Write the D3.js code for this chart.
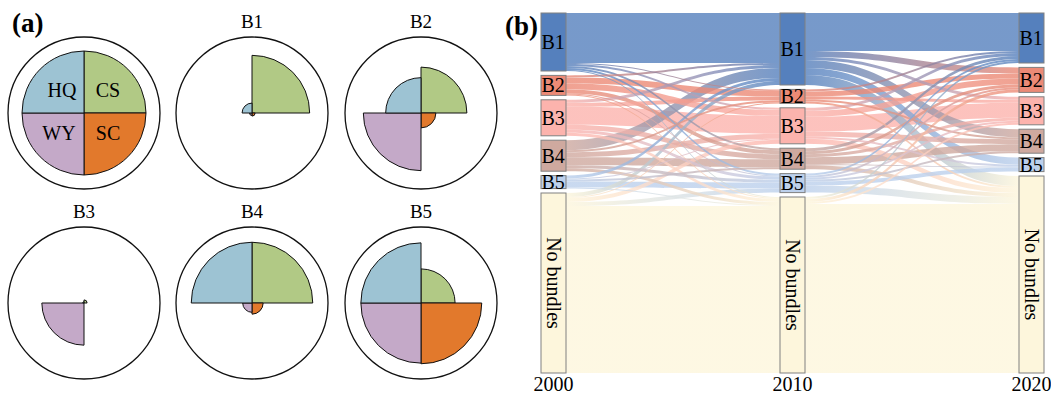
<!DOCTYPE html>
<html>
<head>
<meta charset="utf-8">
<script src="https://cdn.jsdelivr.net/npm/d3@7"></script>
<style>
  body { margin: 0; background: #fff; }
  svg text { font-family: "Liberation Serif", "Times New Roman", serif; }
</style>
</head>
<body>
<div class="wrapper"></div>
<script>
// ---- data ----
var bundles = ["B1", "B2", "B3", "B4", "B5"];
var services = ["CS", "SC", "WY", "HQ"];   // clockwise from 12 o'clock
// relative sector length of each service in each bundle (B1..B5)
var hq = [0.16, 0.57, 0.02, 0.98, 0.97];
var cs = [0.93, 0.74, 0.05, 0.98, 0.55];
var wy = [0.04, 0.93, 0.68, 0.15, 0.97];
var sc = [0.05, 0.24, 0.00, 0.18, 0.98];

var years = ["2000", "2010", "2020"];
var classes = ["B1", "B2", "B3", "B4", "B5", "No bundles"];
// flows, rows = source class, cols = target class
var flows2000to2010 = [
  [50, 1, 2, 2, 2, 1],
  [2, 6, 6, 4, 1, 1],
  [3, 4, 18, 5, 3, 3],
  [10, 2, 5, 8, 3, 3],
  [3, 0, 1, 2, 6, 1],
  [4, 1, 4, 0, 4, 167]
];
var flows2010to2020 = [
  [38, 6, 3, 8, 7, 10],
  [2, 5, 3, 2, 0, 2],
  [3, 6, 15, 5, 2, 5],
  [3, 3, 3, 7, 1, 4],
  [2, 2, 2, 2, 4, 7],
  [2, 3, 2, 0, 0, 169]
];

var w = 1051, h = 401;
var svg = d3.select(".wrapper").append("svg")
    .attr("width", w)
    .attr("height", h);

// ---- panel (a) ----
var serviceColor = {HQ: "#9dc3d3", CS: "#b1c985", WY: "#c4a9c8", SC: "#e2792c"};
var serviceValues = {HQ: hq, CS: cs, WY: wy, SC: sc};
var r = d3.scaleLinear().domain([0, 1]).range([0, 62]);
var arc = d3.arc().innerRadius(0);

var cx = [84, 252, 421], cy = [113, 303];

svg.append("text")
    .attr("x", 12).attr("y", 32)
    .style("font-size", "27px").style("font-weight", "bold")
    .text("(a)");

// key circle + 5 bundles
var panels = [{name: null, idx: -1}].concat(bundles.map(function(b, i) { return {name: b, idx: i}; }));

panels.forEach(function(p, k) {
  var g = svg.append("g")
      .attr("transform", "translate(" + cx[k % 3] + "," + cy[Math.floor(k / 3)] + ")");
  g.append("circle")
      .attr("r", 76)
      .attr("fill", "none")
      .attr("stroke", "#111")
      .attr("stroke-width", 1.3);
  services.forEach(function(s, j) {
    var v = p.idx < 0 ? 1 : serviceValues[s][p.idx];
    if (v <= 0) return;
    g.append("path")
        .attr("d", arc.outerRadius(r(v))({startAngle: j * Math.PI / 2, endAngle: (j + 1) * Math.PI / 2}))
        .attr("fill", serviceColor[s])
        .attr("stroke", "#111")
        .attr("stroke-width", 1);
  });
  if (p.idx < 0) {
    var lab = {HQ: [-22, -16], CS: [24, -16], WY: [-25, 27], SC: [24, 27]};
    services.forEach(function(s) {
      g.append("text")
          .attr("x", lab[s][0]).attr("y", lab[s][1])
          .attr("text-anchor", "middle")
          .style("font-size", "20px")
          .text(s);
    });
  } else {
    g.append("text")
        .attr("y", -85)
        .attr("text-anchor", "middle")
        .style("font-size", "19px")
        .text(p.name);
  }
});

// ---- panel (b) sankey ----
svg.append("text")
    .attr("x", 505).attr("y", 35)
    .style("font-size", "27px").style("font-weight", "bold")
    .text("(b)");

var nodeColor = ["#5580bd", "#ec8a76", "#fcb3ad", "#cfa99f", "#bcd0ec", "#fdf6dc"];
var x = d3.scalePoint().domain(years).range([541, 1019]);
var nodeWidth = 25, pad = 4.4, yTop = 13, yBottom = 373;

var matrices = [flows2000to2010, flows2010to2020];
var totals = years.map(function(y, t) {
  return classes.map(function(c, i) {
    if (t === 0) return d3.sum(flows2000to2010[i]);
    return d3.sum(matrices[t - 1], function(row) { return row[i]; });
  });
});
var grand = d3.sum(totals[0]);
var ky = (yBottom - yTop - pad * (classes.length - 1)) / grand;

var nodes = [];
years.forEach(function(y, t) {
  var y0 = yTop;
  classes.forEach(function(c, i) {
    var hgt = totals[t][i] * ky;
    nodes.push({year: y, t: t, i: i, name: c, x0: x(y), x1: x(y) + nodeWidth, y0: y0, y1: y0 + hgt, outY: y0, inY: y0});
    y0 += hgt + pad;
  });
});
function node(t, i) { return nodes[t * classes.length + i]; }

var links = [];
matrices.forEach(function(m, t) {
  // source side: ordered by target
  for (var i = 0; i < classes.length; i++) {
    for (var j = 0; j < classes.length; j++) {
      var v = m[i][j];
      if (!v) continue;
      var s = node(t, i);
      links.push({t: t, s: i, tg: j, value: v, sy0: s.outY, sy1: s.outY + v * ky});
      s.outY += v * ky;
    }
  }
});
// target side: ordered by source
matrices.forEach(function(m, t) {
  for (var j = 0; j < classes.length; j++) {
    for (var i = 0; i < classes.length; i++) {
      var l = links.find(function(d) { return d.t === t && d.s === i && d.tg === j; });
      if (!l) continue;
      var tn = node(t + 1, j);
      l.ty0 = tn.inY; l.ty1 = tn.inY + l.value * ky;
      tn.inY += l.value * ky;
    }
  }
});

var defs = svg.append("defs");
links.forEach(function(l, k) {
  var xa = x(years[l.t]) + nodeWidth, xb = x(years[l.t + 1]);
  var gr = defs.append("linearGradient")
      .attr("id", "lg" + k)
      .attr("gradientUnits", "userSpaceOnUse")
      .attr("x1", xa).attr("x2", xb).attr("y1", 0).attr("y2", 0);
  gr.append("stop").attr("offset", "0%").attr("stop-color", nodeColor[l.s]);
  gr.append("stop").attr("offset", "100%").attr("stop-color", nodeColor[l.tg]);
  l.xa = xa; l.xb = xb; l.id = "lg" + k;
});

function band(l) {
  var xm = (l.xa + l.xb) / 2;
  return "M" + l.xa + "," + l.sy0 +
    "C" + xm + "," + l.sy0 + " " + xm + "," + l.ty0 + " " + l.xb + "," + l.ty0 +
    "L" + l.xb + "," + l.ty1 +
    "C" + xm + "," + l.ty1 + " " + xm + "," + l.sy1 + " " + l.xa + "," + l.sy1 + "Z";
}

svg.append("g").selectAll("path")
    .data(links.slice().sort(function(a, b) { return b.value - a.value; }))
  .enter().append("path")
    .attr("d", band)
    .attr("fill", function(d) { return "url(#" + d.id + ")"; })
    .attr("opacity", 0.8);

var ng = svg.append("g").selectAll("g")
    .data(nodes)
  .enter().append("g");
ng.append("rect")
    .attr("x", function(d) { return d.x0; })
    .attr("y", function(d) { return d.y0; })
    .attr("width", nodeWidth)
    .attr("height", function(d) { return d.y1 - d.y0; })
    .attr("fill", function(d) { return nodeColor[d.i]; })
    .attr("stroke", "#808080")
    .attr("stroke-width", 1);
ng.append("text")
    .attr("transform", function(d) {
      var my = (d.y0 + d.y1) / 2;
      if (d.i === classes.length - 1) return "translate(" + (d.x0 + nodeWidth / 2) + "," + my + ") rotate(90)";
      return "translate(" + (d.x0 + 0.5) + "," + my + ")";
    })
    .attr("text-anchor", function(d) { return d.i === classes.length - 1 ? "middle" : "start"; })
    .attr("dy", "0.35em")
    .style("font-size", "20px")
    .text(function(d) { return d.name; });

svg.append("g").selectAll("text")
    .data(years)
  .enter().append("text")
    .attr("x", function(d) { return x(d) + nodeWidth / 2; })
    .attr("y", 391)
    .attr("text-anchor", "middle")
    .style("font-size", "20px")
    .text(function(d) { return d; });
</script>
</body>
</html>
